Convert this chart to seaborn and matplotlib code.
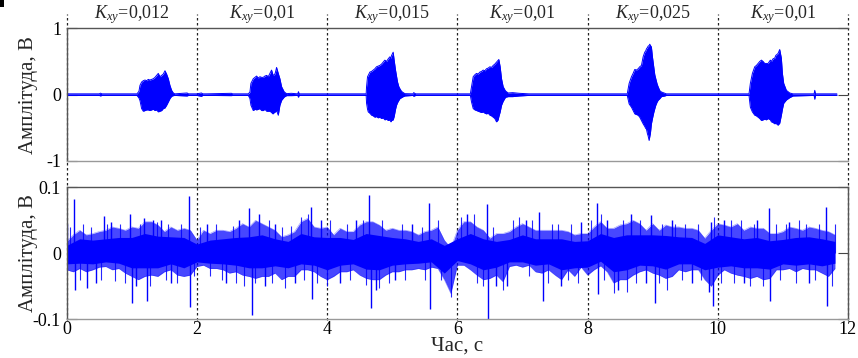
import numpy as np
import matplotlib
matplotlib.use("Agg")
import matplotlib.pyplot as plt
import matplotlib.transforms as mtransforms
from matplotlib.lines import Line2D
from matplotlib.patches import Rectangle
import seaborn as sns

t_top = [0.0, 0.5, 0.52, 0.54, 1.08,
         # burst 1
         1.11, 1.126, 1.151, 1.177, 1.203, 1.228, 1.254, 1.279, 1.305, 1.331, 1.356, 1.382,
         1.407, 1.433, 1.459, 1.484, 1.51, 1.535, 1.561, 1.586, 1.612, 1.638, 1.66,
         1.85, 1.87, 2.0, 2.07, 2.09, 2.15, 2.53, 2.55, 2.79,
         # burst 2
         2.815, 2.83, 2.866, 2.892, 2.917, 2.943, 2.968, 2.994, 3.019, 3.045, 3.071, 3.096,
         3.122, 3.147, 3.168, 3.188, 3.205, 3.224, 3.25, 3.275, 3.301, 3.342, 3.378,
         3.45, 3.55, 3.56, 3.57, 3.65, 4.6,
         # burst 3
         4.606, 4.621, 4.632, 4.657, 4.683, 4.708, 4.734, 4.759, 4.785, 4.81, 4.836, 4.862,
         4.887, 4.913, 4.939, 4.964, 4.98, 4.99, 5.015, 5.03, 5.051, 5.066, 5.082, 5.102,
         5.118, 5.143, 5.17, 5.195, 5.32, 5.33, 5.36, 6.2,
         # burst 4
         6.218, 6.244, 6.27, 6.295, 6.32, 6.346, 6.372, 6.397, 6.423, 6.448, 6.474, 6.5,
         6.525, 6.551, 6.576, 6.602, 6.627, 6.638, 6.658, 6.679, 6.704, 6.74, 6.781,
         6.85, 6.95, 7.04, 7.1, 8.61,
         # burst 5
         8.639, 8.675, 8.7, 8.726, 8.751, 8.777, 8.802, 8.828, 8.854, 8.879, 8.894, 8.905,
         8.92, 8.93, 8.946, 8.956, 8.966, 8.981, 8.997, 9.017, 9.033, 9.048, 9.069, 9.084,
         9.11, 9.135, 9.186, 9.21, 10.48,
         # burst 6
         10.501, 10.532, 10.568, 10.594, 10.619, 10.645, 10.671, 10.696, 10.722, 10.747,
         10.773, 10.808, 10.824, 10.85, 10.875, 10.891, 10.926, 10.952, 10.977, 10.993,
         11.013, 11.054, 11.105, 11.156, 11.48, 11.49, 11.5, 11.83]
up_top = [0.012, 0.012, 0.022, 0.012, 0.012,
          0.05, 0.14, 0.19, 0.21, 0.22, 0.21, 0.23, 0.22, 0.23, 0.24, 0.26, 0.29,
          0.32, 0.27, 0.29, 0.31, 0.36, 0.31, 0.24, 0.14, 0.065, 0.025, 0.012,
          0.025, 0.012, 0.012, 0.025, 0.012, 0.012, 0.02, 0.012, 0.012,
          0.04, 0.17, 0.24, 0.26, 0.28, 0.25, 0.27, 0.26, 0.26, 0.28, 0.29, 0.27,
          0.32, 0.37, 0.30, 0.29, 0.33, 0.41, 0.32, 0.24, 0.12, 0.04, 0.015,
          0.02, 0.012, 0.045, 0.012, 0.012, 0.012,
          0.12, 0.27, 0.29, 0.34, 0.35, 0.37, 0.39, 0.42, 0.43, 0.44, 0.46, 0.49,
          0.52, 0.50, 0.54, 0.57, 0.55, 0.59, 0.64, 0.52, 0.37, 0.28, 0.19, 0.12,
          0.09, 0.05, 0.03, 0.015, 0.012, 0.03, 0.012, 0.012,
          0.12, 0.27, 0.30, 0.32, 0.31, 0.34, 0.35, 0.37, 0.36, 0.39, 0.40, 0.42,
          0.41, 0.44, 0.46, 0.49, 0.52, 0.53, 0.42, 0.24, 0.12, 0.055, 0.025,
          0.03, 0.02, 0.015, 0.012, 0.012,
          0.17, 0.27, 0.32, 0.38, 0.37, 0.39, 0.42, 0.44, 0.57, 0.64, 0.66, 0.69,
          0.71, 0.73, 0.74, 0.76, 0.74, 0.72, 0.57, 0.42, 0.30, 0.24, 0.16, 0.12,
          0.06, 0.04, 0.02, 0.012, 0.012,
          0.17, 0.32, 0.42, 0.44, 0.47, 0.50, 0.52, 0.50, 0.47, 0.47,
          0.47, 0.52, 0.50, 0.54, 0.55, 0.59, 0.62, 0.68, 0.55, 0.32,
          0.17, 0.065, 0.025, 0.012, 0.012, 0.065, 0.012, 0.012]
lo_top = [-0.012, -0.012, -0.02, -0.012, -0.012,
          -0.05, -0.09, -0.21, -0.25, -0.24, -0.23, -0.23, -0.24, -0.23, -0.22, -0.24, -0.23,
          -0.26, -0.25, -0.24, -0.21, -0.20, -0.16, -0.11, -0.06, -0.025, -0.015, -0.012,
          -0.02, -0.012, -0.012, -0.025, -0.012, -0.012, -0.015, -0.012, -0.012,
          -0.06, -0.16, -0.24, -0.22, -0.23, -0.22, -0.21, -0.24, -0.24, -0.22, -0.25, -0.25,
          -0.25, -0.27, -0.29, -0.27, -0.26, -0.24, -0.31, -0.16, -0.085, -0.035, -0.015,
          -0.015, -0.012, -0.04, -0.012, -0.012, -0.012,
          -0.13, -0.22, -0.26, -0.28, -0.31, -0.32, -0.34, -0.33, -0.35, -0.34, -0.36, -0.35,
          -0.38, -0.37, -0.39, -0.38, -0.41, -0.39, -0.38, -0.33, -0.22, -0.16, -0.12, -0.085,
          -0.06, -0.045, -0.03, -0.02, -0.012, -0.025, -0.012, -0.012,
          -0.11, -0.21, -0.23, -0.24, -0.25, -0.26, -0.27, -0.26, -0.28, -0.29, -0.28, -0.31,
          -0.32, -0.34, -0.36, -0.41, -0.38, -0.33, -0.26, -0.16, -0.10, -0.04, -0.03,
          -0.03, -0.02, -0.015, -0.012, -0.012,
          -0.14, -0.19, -0.24, -0.29, -0.30, -0.31, -0.34, -0.39, -0.44, -0.48, -0.51, -0.52,
          -0.59, -0.62, -0.69, -0.63, -0.58, -0.44, -0.36, -0.27, -0.21, -0.16, -0.11, -0.085,
          -0.06, -0.03, -0.02, -0.012, -0.012,
          -0.19, -0.26, -0.31, -0.32, -0.34, -0.36, -0.39, -0.38, -0.37, -0.38,
          -0.36, -0.38, -0.41, -0.42, -0.44, -0.43, -0.46, -0.43, -0.31, -0.22,
          -0.13, -0.08, -0.045, -0.02, -0.012, -0.07, -0.012, -0.012]

# ---- bottom panel: residual noise ----
# outer (fuzzy) band sampled every 0.1 s
t_low = np.round(np.arange(0, 11.85, 0.1), 2)
band_up = [0.018, 0.028, 0.035, 0.028, 0.030, 0.033, 0.035, 0.040, 0.038, 0.035, 0.040,
           0.038, 0.048, 0.048, 0.043, 0.033, 0.040, 0.035, 0.038, 0.035, 0.020, 0.035,
           0.030, 0.035, 0.035, 0.033, 0.038, 0.045, 0.040, 0.050, 0.045,
           0.040, 0.035, 0.025, 0.028, 0.033, 0.048, 0.053, 0.040, 0.038, 0.040, 0.028,
           0.038, 0.033, 0.033, 0.043, 0.048, 0.048, 0.043, 0.035, 0.038, 0.035, 0.035,
           0.033, 0.028, 0.033, 0.035, 0.040, 0.020, 0.008, 0.035,
           0.048, 0.048, 0.040, 0.035, 0.023, 0.030, 0.030, 0.033, 0.040, 0.045, 0.040,
           0.035, 0.035, 0.035, 0.035, 0.035, 0.033, 0.028, 0.030, 0.030, 0.040, 0.048,
           0.038, 0.038, 0.043, 0.045, 0.050, 0.045, 0.035, 0.045,
           0.035, 0.043, 0.040, 0.040, 0.038, 0.038, 0.035, 0.023, 0.035, 0.045, 0.043,
           0.040, 0.045, 0.035, 0.040, 0.038, 0.038, 0.030, 0.030, 0.033, 0.040, 0.038,
           0.035, 0.040, 0.038, 0.035, 0.033, 0.028]
band_lo = [-0.025, -0.028, -0.023, -0.028, -0.025, -0.021, -0.020, -0.025, -0.023, -0.030, -0.035,
           -0.040, -0.035, -0.033, -0.035, -0.028, -0.025, -0.033, -0.035, -0.033, -0.020, -0.018,
           -0.023, -0.023, -0.025, -0.030, -0.028, -0.033, -0.035, -0.038, -0.035,
           -0.035, -0.030, -0.040, -0.035, -0.035, -0.025, -0.025, -0.028, -0.035, -0.040, -0.035,
           -0.028, -0.028, -0.025, -0.033, -0.038, -0.040, -0.040, -0.033, -0.028, -0.028, -0.025,
           -0.025, -0.023, -0.025, -0.021, -0.023, -0.040, -0.061, -0.018,
           -0.018, -0.025, -0.033, -0.040, -0.038, -0.033, -0.043, -0.020, -0.018, -0.021, -0.018,
           -0.028, -0.030, -0.025, -0.033, -0.040, -0.025, -0.035, -0.021, -0.033, -0.025, -0.019,
           -0.028, -0.045, -0.040, -0.040, -0.033, -0.028, -0.025, -0.030,
           -0.033, -0.038, -0.035, -0.025, -0.028, -0.025, -0.025, -0.040, -0.050, -0.033, -0.025,
           -0.030, -0.033, -0.035, -0.038, -0.035, -0.040, -0.038, -0.025, -0.025, -0.023, -0.028,
           -0.023, -0.025, -0.025, -0.030, -0.035, -0.023]
# solid core sampled every 0.2 s
t_core = np.round(np.arange(0, 11.85, 0.2), 2)
core_up = [0.012, 0.022, 0.020, 0.022, 0.024, 0.024, 0.030, 0.026, 0.025, 0.024,
           0.014, 0.020, 0.022, 0.024, 0.025, 0.028, 0.022, 0.018, 0.030, 0.025,
           0.024, 0.024, 0.021, 0.030, 0.027, 0.024, 0.022, 0.018, 0.022, 0.012,
           0.022, 0.030, 0.022, 0.018, 0.021, 0.028, 0.022, 0.022, 0.022, 0.018,
           0.019, 0.030, 0.024, 0.028, 0.028, 0.028, 0.027, 0.025, 0.024, 0.015,
           0.028, 0.025, 0.022, 0.024, 0.019, 0.021, 0.024, 0.025, 0.022, 0.018]
core_lo = [-0.016, -0.015, -0.016, -0.013, -0.015, -0.022, -0.022, -0.022, -0.016, -0.022,
           -0.013, -0.015, -0.016, -0.018, -0.022, -0.022, -0.019, -0.022, -0.016, -0.018,
           -0.025, -0.018, -0.016, -0.024, -0.025, -0.018, -0.016, -0.015, -0.013, -0.030,
           -0.011, -0.016, -0.025, -0.021, -0.013, -0.013, -0.018, -0.016, -0.025, -0.022,
           -0.021, -0.012, -0.028, -0.025, -0.018, -0.019, -0.024, -0.016, -0.016, -0.025,
           -0.021, -0.019, -0.022, -0.022, -0.024, -0.016, -0.018, -0.016, -0.019, -0.015]
# isolated large spikes
spike_t = [0.0, 0.107, 0.13, 0.31, 0.45, 0.58, 0.68, 0.97, 1.0, 1.07, 1.19, 1.23, 1.32, 1.45,
           1.6, 1.88, 1.9, 2.15, 2.45, 2.65, 2.8, 2.84, 2.95, 3.05, 3.2, 3.5, 3.75, 3.77, 3.9,
           4.2, 4.45, 4.65, 4.67, 4.75, 5.05, 5.3, 5.56, 5.58, 6.15, 6.45, 6.47, 6.6, 6.76,
           7.05, 7.26, 7.31, 7.6, 7.9, 8.14, 8.16, 8.3, 8.47, 8.67, 8.9, 8.97, 9.04, 9.3, 9.6,
           9.87, 9.89, 9.92, 10.1, 10.4, 10.6, 10.78, 10.8, 11.1, 11.4, 11.66, 11.68]
spike_v = [0.045, 0.082, -0.055, -0.053, -0.045, 0.057, 0.048, 0.060, -0.075, -0.050, 0.053,
           -0.073, 0.050, 0.050, -0.045, 0.087, -0.081, 0.045, -0.045, 0.050, 0.068, -0.093,
           0.060, -0.050, 0.045, -0.045, 0.070, -0.069, 0.050, -0.045, 0.050, 0.088, -0.083,
           -0.055, -0.040, 0.045, 0.076, -0.085, 0.060, 0.074, -0.100, -0.050, -0.050, 0.050,
           0.062, -0.073, -0.050, 0.048, 0.076, -0.062, 0.050, -0.055, 0.060, -0.045, 0.058,
           -0.076, 0.050, -0.045, -0.058, 0.048, -0.080, 0.050, -0.045, 0.050, 0.068, -0.073,
           0.048, -0.045, 0.070, -0.080]
# smaller hairlines at the band edge
hair_t = [0.05, 0.2, 0.25, 0.38, 0.52, 0.62, 0.75, 0.82, 0.9, 1.12, 1.28, 1.38, 1.52, 1.55,
          1.7, 1.75, 1.95, 2.05, 2.2, 2.3, 2.38, 2.55, 2.6, 2.72, 2.9, 3.1, 3.15, 3.3, 3.35,
          3.45, 3.6, 3.65, 3.7, 3.85, 4.0, 4.05, 4.3, 4.35, 4.55, 4.6, 4.8, 4.85, 4.95, 5.15,
          5.2, 5.45, 5.5, 5.7, 5.75, 5.9, 6.05, 6.25, 6.3, 6.4, 6.55, 6.7, 6.85, 6.95, 7.1,
          7.15, 7.4, 7.45, 7.55, 7.7, 7.75, 7.85, 8.05, 8.2, 8.25, 8.4, 8.55, 8.6, 8.75, 8.8,
          9.1, 9.15, 9.22, 9.35, 9.45, 9.5, 9.7, 9.75, 9.95, 10.05, 10.2, 10.25, 10.35, 10.5,
          10.55, 10.7, 10.9, 10.95, 11.05, 11.2, 11.25, 11.35, 11.5, 11.55, 11.75, 11.8]
hair_v = [0.040, -0.040, 0.045, 0.040, -0.040, 0.045, -0.042, 0.045, -0.045, 0.045, -0.050,
          0.048, -0.040, 0.045, -0.045, 0.045, -0.035, 0.040, -0.035, 0.045, -0.040, 0.042,
          -0.045, -0.050, -0.045, 0.050, -0.045, 0.040, -0.053, 0.042, 0.055, -0.040, 0.060,
          -0.045, -0.050, 0.050, 0.045, -0.040, 0.050, -0.048, -0.053, 0.050, -0.045, 0.045,
          -0.040, 0.040, -0.040, 0.050, -0.040, -0.066, 0.055, 0.060, -0.045, -0.050, 0.040,
          -0.055, 0.050, 0.055, -0.035, 0.050, -0.045, 0.045, 0.045, -0.040, 0.045, -0.045,
          0.050, 0.060, -0.040, -0.060, 0.050, -0.058, -0.045, 0.050, -0.045, 0.045, -0.055,
          0.045, -0.040, 0.045, 0.045, -0.040, 0.055, -0.045, 0.050, -0.045, 0.050, -0.050,
          0.045, -0.050, 0.045, -0.040, 0.045, -0.045, 0.050, 0.045, -0.040, 0.045, -0.050,
          0.045]

kxy_labels = ["0,012", "0,01", "0,015", "0,01", "0,025", "0,01"]
seg_edges = [0, 2, 4, 6, 8, 10, 12]

sns.set_theme(style="white")
plt.rcParams["font.family"] = ["Liberation Serif", "DejaVu Serif"]
plt.rcParams["mathtext.fontset"] = "custom"
plt.rcParams["mathtext.rm"] = "Liberation Serif"
plt.rcParams["mathtext.it"] = "Liberation Serif:italic"

BLUE = "#0000ff"
fig = plt.figure(figsize=(8.58, 3.58), dpi=100)
ax1 = fig.add_axes([0.0777, 0.5503, 0.9106, 0.3707])
ax2 = fig.add_axes([0.0777, 0.1081, 0.9106, 0.3687])

# top signal
ax1.fill_between(t_top, lo_top, up_top, color=BLUE, lw=0)
sns.lineplot(x=t_top, y=up_top, ax=ax1, color=BLUE, lw=0.7, estimator=None, sort=False)
sns.lineplot(x=t_top, y=lo_top, ax=ax1, color=BLUE, lw=0.7, estimator=None, sort=False)

# bottom signal
ax2.fill_between(t_low, band_lo, band_up, color=BLUE, lw=0, alpha=0.72)
sns.lineplot(x=t_low, y=band_up, ax=ax2, color=BLUE, lw=0.4, alpha=0.4, estimator=None, sort=False)
sns.lineplot(x=t_low, y=band_lo, ax=ax2, color=BLUE, lw=0.4, alpha=0.4, estimator=None, sort=False)
ax2.fill_between(t_core, core_lo, core_up, color=BLUE, lw=0)
ax2.vlines(hair_t, 0, hair_v, color=BLUE, lw=0.8, alpha=0.85)
ax2.vlines(spike_t, 0, spike_v, color=BLUE, lw=1.0)

for ax, lim, ticks, labels in [(ax1, 1, [-1, 0, 1], ["-1", "0", "1"]),
                               (ax2, 0.1, [-0.1, 0, 0.1], ["-0.1", "0", "0.1"])]:
    ax.set_xlim(0, 12)
    ax.set_ylim(-lim, lim)
    ax.set_yticks(ticks)
    ax.set_yticklabels(labels)
    ax.set_xticks(seg_edges)
    ax.set_facecolor("none")
    ax.tick_params(direction="in", length=7, width=0.8, color="#444444",
                   right=True, left=True, labelsize=13, pad=4, colors="black")
    for s in ax.spines.values():
        s.set_color("#555555")
        s.set_linewidth(1.0)
    ax.spines["bottom"].set_color("#999999")
    ax.set_ylabel("Амплітуда, В", fontsize=15)
    ax.yaxis.set_label_coords(-0.037, 0.5)

ax1.spines["right"].set_visible(False)
ax1.set_xticklabels([])
ax1.tick_params(axis="x", length=0)
ax2.set_xticklabels([str(v) for v in seg_edges])
ax2.tick_params(axis="x", pad=1)
ax2.set_xlabel("Час, с", fontsize=15, labelpad=-1)

# dotted segment separators spanning both panels
trans = mtransforms.blended_transform_factory(ax2.transData, fig.transFigure)
for x in seg_edges:
    fig.add_artist(Line2D([x, x], [0.105, 0.96], transform=trans, color="#222222",
                          lw=0.9, ls=(0, (2, 2)), zorder=-1))

for i, lab in enumerate(kxy_labels):
    ax1.text(seg_edges[i] + 1, 1.035, r"$K_{xy}$=" + lab, transform=ax1.transData,
             ha="center", va="bottom", fontsize=13, clip_on=False)

# small mark in the top-left corner of the original image
fig.add_artist(Rectangle((0, 1 - 7 / 358), 4 / 858, 7 / 358, transform=fig.transFigure,
                         color="black", lw=0))

fig.savefig("out.png", dpi=100)
